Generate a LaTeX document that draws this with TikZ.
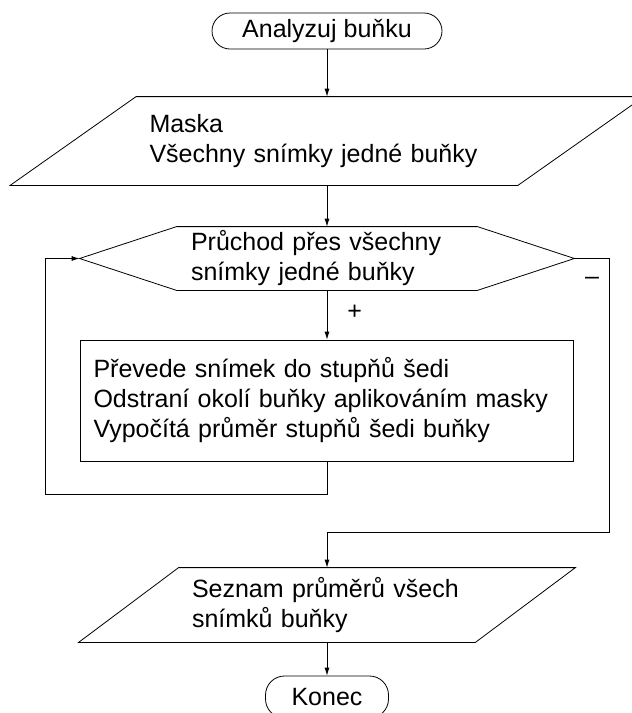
\documentclass[tikz,border=0pt]{standalone}
\usepackage{fontspec}
\setmainfont{Liberation Sans}
\usetikzlibrary{calc,arrows.meta}

\tikzset{
  txt/.style={font=\fontsize{25}{30}\selectfont, inner sep=0pt},
  term/.style={txt, draw, rounded corners=18pt, minimum height=36pt},
  blok/.style={txt, draw, align=left},
  iobox/.style={txt, align=left},
  sipka/.style={-{Latex[length=8pt,width=5pt]}},
}

\begin{document}
\begin{tikzpicture}[x=1pt,y=-1pt,line width=0.8pt]
  \useasboundingbox (0,0) rectangle (632,713);
  \clip (0,0) rectangle (632,713);
  %draw nodes
  \node[term, minimum width=230pt] (start) at (327,31) {Analyzuj buňku};
  \node[iobox, text width=355pt, minimum width=507pt, minimum height=88pt] (maska) at (327,141) {Maska\\Všechny snímky jedné buňky};
  \node[iobox, text width=272pt, minimum width=494pt, minimum height=63pt] (pruchod) at (327,258.5) {Průchod přes všechny\\snímky jedné buňky};
  \node[blok, text width=467pt, minimum width=493pt, minimum height=121pt] (krok) at (327,400.5) {Převede snímek do stupňů šedi\\Odstraní okolí buňky aplikováním masky\\Vypočítá průměr stupňů šedi buňky};
  \node[iobox, text width=270pt, minimum width=396pt, minimum height=74pt] (seznam) at (327,605) {Seznam průměrů všech\\snímků buňky};
  \node[term, minimum width=123pt, minimum height=42pt, rounded corners=19pt] (konec) at (327,697) {Konec};
  \node[txt] (minus) at (592,281) {–};
  %draw outlines
  \draw ($(maska.north west)+(63,0)$) -- ($(maska.north east)+(63,0)$) -- ($(maska.south east)-(63,0)$) -- ($(maska.south west)-(63,0)$) -- cycle;
  \draw (pruchod.west) -- ($(pruchod.north west)+(97,0)$) -- ($(pruchod.north east)-(97,0)$) -- (pruchod.east) -- ($(pruchod.south east)-(97,0)$) -- ($(pruchod.south west)+(97,0)$) -- cycle;
  \draw ($(seznam.north west)+(50,0)$) -- ($(seznam.north east)+(50,0)$) -- ($(seznam.south east)-(50,0)$) -- ($(seznam.south west)-(50,0)$) -- cycle;
  %draw arrows
  \draw[sipka] (start) -- (maska);
  \draw[sipka] (maska) -- (pruchod);
  \draw[sipka] (pruchod) -- node[txt, anchor=west, xshift=20pt, pos=0.45] {+} (krok);
  \draw[sipka] (krok.south) -- ++(0,33) -| ($(pruchod.west)+(-34,0)$) -- (pruchod.west);
  \draw[sipka] (pruchod.east) -| ++(35,273.5) -| (seznam.north);
  \draw[sipka] (seznam) -- (konec);
\end{tikzpicture}
\end{document}
